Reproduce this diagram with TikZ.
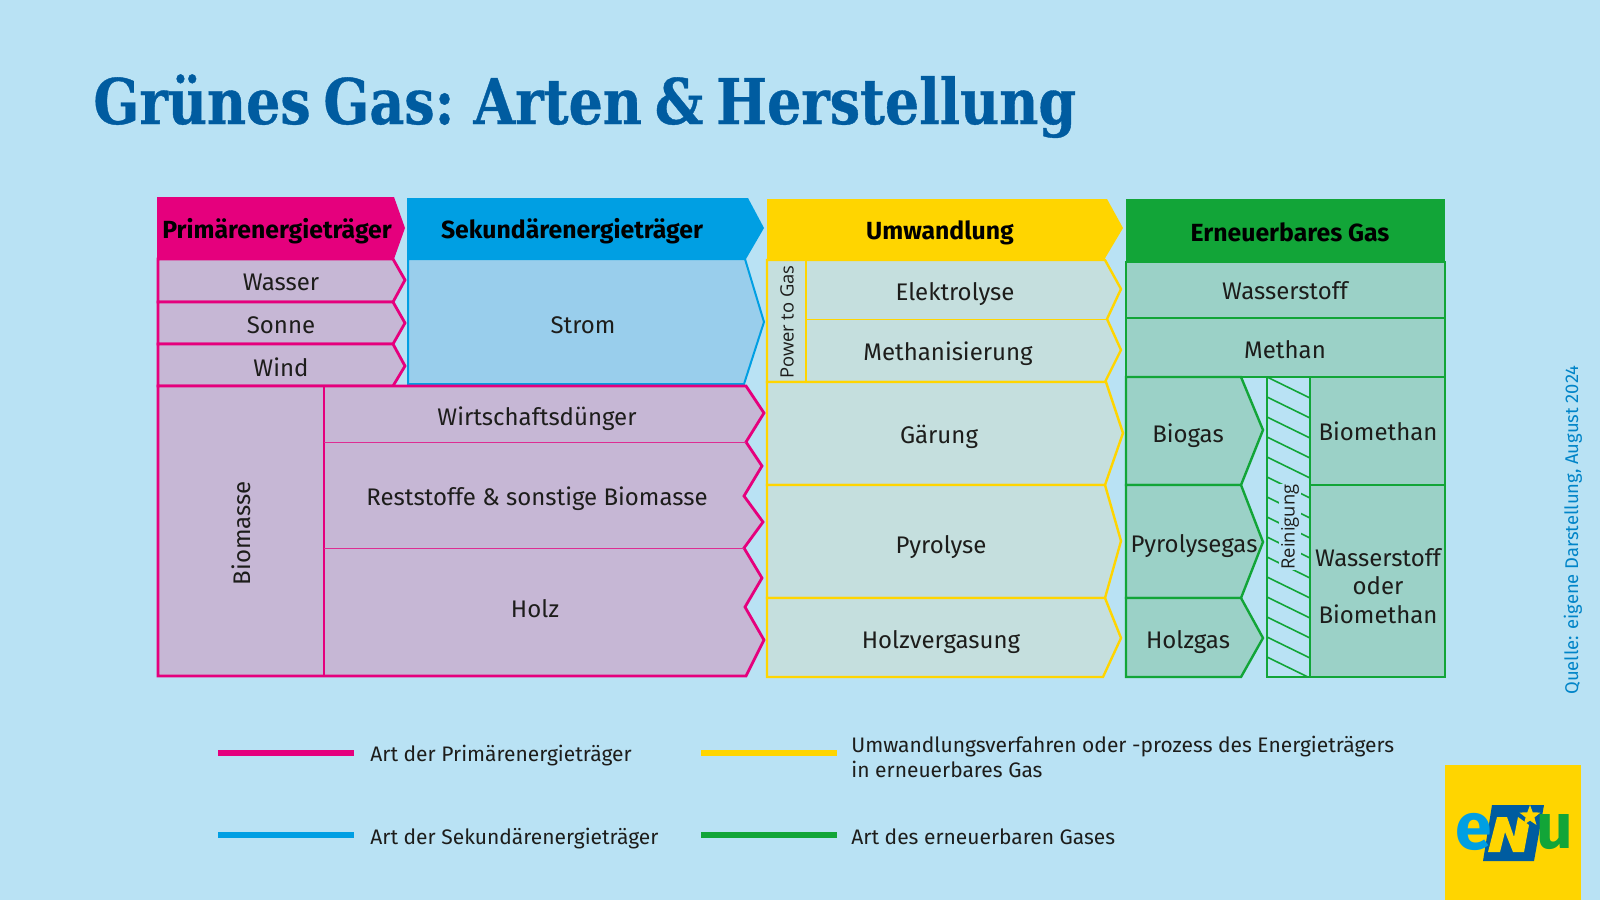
\documentclass[tikz,border=0pt]{standalone}
\usepackage{fontspec}
\setmainfont{Fira Sans}
\newfontfamily\titlefont[FakeStretch=0.855,WordSpace=0.68,FakeBold=0.6]{DejaVu Serif}
\newfontfamily\labelfont{Open Sans}
\usetikzlibrary{shapes.geometric}

\definecolor{bgblue}{HTML}{B9E2F4}
\definecolor{enumagenta}{HTML}{E5007D}
\definecolor{enublue}{HTML}{009FE3}
\definecolor{enuyellow}{HTML}{FFD500}
\definecolor{enugreen}{HTML}{12A538}
\definecolor{enunavy}{HTML}{005CA0}
\definecolor{fillmagenta}{HTML}{C6B7D5}
\definecolor{fillblue}{HTML}{99CEEC}
\definecolor{fillyellow}{HTML}{C5DFDE}
\definecolor{fillgreen}{HTML}{9BD1C7}
\definecolor{inktext}{HTML}{1D1D1B}

\begin{document}
\begin{tikzpicture}[
    x=0.5pt, y=-0.5pt,
    node font=\fontsize{12}{14}\selectfont,
    text=inktext,
    head text/.style={font=\fontsize{12.4}{14}\selectfont\bfseries, text=black},
    magenta box/.style={draw=enumagenta, fill=fillmagenta, line width=1.4pt, line join=miter},
    blue box/.style={draw=enublue, fill=fillblue, line width=1pt},
    yellow box/.style={draw=enuyellow, fill=fillyellow, line width=1.2pt},
    green box/.style={draw=enugreen, fill=fillgreen, line width=1.2pt},
    thin rule/.style={line width=0.5pt},
    legend line/.style={line width=2.8pt},
    legend text/.style={anchor=west, inner sep=0pt, font=\fontsize{10.5}{12.5}\selectfont, align=left},
    side text/.style={rotate=90, font=\labelfont\fontsize{9.2}{11}\selectfont},
]

% Page
\fill[bgblue] (0,0) rectangle (1600,900);
\useasboundingbox (0,0) rectangle (1600,900);

% Title
\node[anchor=base west, inner sep=0pt, text=enunavy, font=\titlefont\bfseries\fontsize{31.5}{36}\selectfont]
    (title) at (93,124) {Grünes Gas: Arten \& Herstellung};

% Headers
\fill[enumagenta] (157,197) -- (394,197) -- (405,228) -- (394,259) -- (157,259) -- cycle;
\fill[enublue] (407,198) -- (748,198) -- (764,228) -- (746,259) -- (407,259) -- cycle;
\fill[enuyellow] (767,199) -- (1107,199) -- (1123,228) -- (1104,260) -- (767,260) -- cycle;
\fill[enugreen] (1126,199) rectangle (1445,262);

\node[head text] (primaer) at (277,231) {Primärenergieträger};
\node[head text] (sekundaer) at (572,231) {Sekundärenergieträger};
\node[head text] (umwandlung) at (940,233) {Umwandlung};
\node[head text] (erneuerbar) at (1290,232) {Erneuerbares Gas};

% Primary sources
\draw[magenta box] (158,259) -- (393,259) -- (405,280) -- (393,302) -- (158,302) -- cycle;
\draw[magenta box] (158,302) -- (393,302) -- (405,323) -- (393,344) -- (158,344) -- cycle;
\draw[magenta box] (158,344) -- (393,344) -- (405,366) -- (393,386) -- (158,386) -- cycle;
\node (wasser) at (281,282) {Wasser};
\node (sonne) at (281,325) {Sonne};
\node (wind) at (281,367) {Wind};

% Strom
\draw[blue box] (408,259) -- (745,259) -- (764,322) -- (744,384) -- (408,384) -- cycle;
\node (strom) at (583,325) {Strom};

% Biomass
\draw[magenta box] (158,386) -- (746,386) -- (764,413) -- (746,442) -- (762,466) -- (744,496)
    -- (763,522) -- (744,548) -- (762,578) -- (745,607) -- (764,640) -- (746,676) -- (158,676) -- cycle;
\draw[magenta box] (324,386) -- (324,676);
\draw[enumagenta!75!fillmagenta, thin rule] (324,442) -- (746,442);
\draw[enumagenta!75!fillmagenta, thin rule] (324,548) -- (744,548);
\node[rotate=90] (biomasse) at (241,533) {Biomasse};
\node (duenger) at (537,419) {Wirtschaftsdünger};
\node (reststoffe) at (537,499) {Reststoffe \& sonstige Biomasse};
\node (holz) at (535,609) {Holz};

% Conversion
\draw[yellow box] (767,260) -- (1105,260) -- (1121,289) -- (1107,319) -- (1121,350) -- (1105,382) -- (767,382) -- cycle;
\draw[yellow box] (806,260) -- (806,382);
\draw[enuyellow, thin rule] (806,319) -- (1107,319);
\draw[yellow box] (767,382) -- (1106,382) -- (1123,433) -- (1105,485) -- (767,485) -- cycle;
\draw[yellow box] (767,485) -- (1105,485) -- (1121,541) -- (1105,598) -- (767,598) -- cycle;
\draw[yellow box] (767,598) -- (1105,598) -- (1121,638) -- (1103,677) -- (767,677) -- cycle;
\node[side text] (powertogas) at (787,322) {Power to Gas};
\node (elektrolyse) at (955,294) {Elektrolyse};
\node (methanisierung) at (948,354) {Methanisierung};
\node (gaerung) at (939,437) {Gärung};
\node (pyrolyse) at (941,547) {Pyrolyse};
\node (vergasung) at (941,642) {Holzvergasung};

% Renewable gas
\draw[green box] (1126,262) rectangle (1445,318);
\draw[green box] (1126,318) rectangle (1445,377);
\draw[green box] (1126,377) -- (1241,377) -- (1263,430) -- (1241,485) -- (1126,485) -- cycle;
\draw[green box] (1126,485) -- (1241,485) -- (1263,542) -- (1241,598) -- (1126,598) -- cycle;
\draw[green box] (1126,598) -- (1241,598) -- (1263,638) -- (1241,677) -- (1126,677) -- cycle;
\draw[green box] (1310,377) rectangle (1445,485);
\draw[green box] (1310,485) rectangle (1445,677);
\node (wasserstoff) at (1285,291) {Wasserstoff};
\node (methan) at (1285,350) {Methan};
\node (biogas) at (1188,436) {Biogas};
\node (pyrolysegas) at (1194,546) {Pyrolysegas};
\node (holzgas) at (1188,642) {Holzgas};
\node (biomethan) at (1378,431) {Biomethan};
\node[align=center, font=\fontsize{12}{14.3}\selectfont] (wsoderbm) at (1378,586) {Wasserstoff\\oder\\Biomethan};

% Hatched cleaning column
\begin{scope}
    \clip (1267,377) rectangle (1310,677);
    \foreach \yy in {377,397,...,677}
        \draw[enugreen, line width=0.8pt] (1267,\yy) -- (1310,\yy+21);
\end{scope}
\draw[enugreen, line width=1.2pt] (1267,377) rectangle (1310,677);
\node[side text, fill=bgblue, inner xsep=0pt, inner ysep=1pt] (reinigung) at (1290,527) {Reinigung};

% Legend
\draw[enumagenta, legend line] (218,753) -- (354,753);
\draw[enublue, legend line] (218,835) -- (354,835);
\draw[enuyellow, legend line] (701,753) -- (837,753);
\draw[enugreen, legend line] (701,835) -- (837,835);
\node[legend text] (legprimaer) at (370,756) {Art der Primärenergieträger};
\node[legend text] (legsekundaer) at (370,839) {Art der Sekundärenergieträger};
\node[legend text] (legumwandlung) at (851,757) {Umwandlungsverfahren oder -prozess des Energieträgers\\in erneuerbares Gas};
\node[legend text] (leggas) at (851,837) {Art des erneuerbaren Gases};

% Source note
\node[rotate=90, text=enublue!60!enunavy, font=\fontsize{9.2}{11}\selectfont] (quelle) at (1573,530)
    {Quelle: eigene Darstellung, August 2024};

% Logo
\fill[enuyellow] (1445,765) rectangle (1581,900);
\fill[enunavy] (1492,805) -- (1544,805) -- (1534,861) -- (1483,861) -- cycle;
\fill[enuyellow] (1488,852) -- (1497,817) -- (1507,817) -- (1514,837) -- (1518,817) -- (1529,825)
    -- (1524,852) -- (1513,852) -- (1505,832) -- (1500,852) -- cycle;
\node[star, star points=5, star point ratio=2.4, fill=enuyellow, inner sep=0pt, minimum size=11pt] (logostar) at (1530,816) {};
\node[text=enublue, inner sep=0pt, font=\fontsize{33}{36}\selectfont\bfseries] (logoe) at (1474,832) {e};
\node[text=enugreen, inner sep=0pt, font=\fontsize{32}{36}\selectfont\bfseries] (logou) at (1555,832) {u};

\end{tikzpicture}
\end{document}
